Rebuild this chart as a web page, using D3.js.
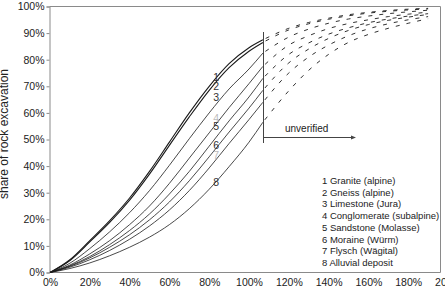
<!DOCTYPE html>
<html>
<head>
<meta charset="utf-8">
<script src="https://cdn.jsdelivr.net/npm/d3@7"></script>
<style>
body{margin:0;background:#fff;}
svg{display:block;font-family:"Liberation Sans",Arial,Helvetica,sans-serif;}
</style>
</head>
<body>
<svg id="chart" width="445" height="300"></svg>
<script>
// share of tunnel length (x) for every sampled point, 1.07 = end of verified part
var xValues=[0,0.1,0.2,0.3,0.4,0.5,0.6,0.7,0.8,0.9,1.0,1.07,1.2,1.3,1.4,1.5,1.6,1.7,1.8,1.9];
var verifiedLimit=1.07;

// share of rock excavation in %, one array per rock type
var granite=     [0,4.8,12,19.5,28,38,49,60,70,78.5,84.5,87.5,91.8,94,95.6,96.9,97.8,98.5,99,99.3];
var gneiss=      [0,4.5,11.5,18.8,27.2,37,47.8,58.5,68.5,77,83.2,86.5,91.2,93.5,95.2,96.5,97.5,98.2,98.7,99.1];
var limestone=   [0,3.5,9,15.3,22.5,30.8,40.3,50.3,60,69,76.5,82.5,88.5,91.5,93.7,95.3,96.4,97.3,98,98.6];
var conglomerate=[0,2.8,7,12,18,25,33.5,43,52.5,62,71,77.5,85.5,89,91.7,93.6,95,96.2,97.1,97.9];
var sandstone=   [0,2.5,6,10.5,15.8,22,29.5,38,47.5,57,66,73,82,86.3,89.6,92,93.9,95.3,96.4,97.3];
var moraine=     [0,2.3,5.5,9.5,14.2,19.8,26.5,34.5,43.5,52.8,61.8,68.5,78.8,84,88,91,93.2,94.8,96,97];
var flysch=      [0,2,4.8,8.3,12.5,17.5,23.5,30.8,39.3,48.5,57.5,64,75,81,85.5,89,91.6,93.5,95,96.2];
var alluvial=    [0,1.5,3.6,6.3,9.5,13.3,18,24,31.3,39.8,49,56.5,68.3,76,82,86.5,89.5,91.8,93.7,95.4];

var legendLabels=["1 Granite (alpine)","2 Gneiss (alpine)","3 Limestone (Jura)","4 Conglomerate (subalpine)",
	"5 Sandstone (Molasse)","6 Moraine (Würm)","7 Flysch (Wägital)","8 Alluvial deposit"];
var curveNumbers=["1","2","3","4","5","6","7","8"];
var curveLabelX=0.835;
var curveLabelY=[73.5,70,66,58,55,48,44,34];

var xTicks=[0,0.2,0.4,0.6,0.8,1.0,1.2,1.4,1.6,1.8,2.0];
var yTicks=[0,0.1,0.2,0.3,0.4,0.5,0.6,0.7,0.8,0.9,1.0];

var allSeries=[granite,gneiss,limestone,conglomerate,sandstone,moraine,flysch,alluvial];

var svg=d3.select("#chart");
var plotLeft=49.5,plotRight=440.5,plotTop=6.5,plotBottom=272.5;

var x=d3.scaleLinear().domain([0,2]).range([50,448]);
var y=d3.scaleLinear().domain([0,1]).range([plotBottom,plotTop]);

//frame
svg.append("path")
	.attr("d","M"+plotLeft+","+plotTop+"H"+plotRight+"V"+plotBottom)
	.attr("fill","none")
	.attr("stroke","#8a8a8a")
	.attr("stroke-width",1);

//y axis
var yAxis=svg.append("g")
	.attr("transform","translate("+plotLeft+",0)")
	.call(d3.axisLeft(y).tickValues(yTicks).tickSize(3).tickPadding(2).tickFormat(d3.format(".0%")));
yAxis.select(".domain").attr("stroke","#8a8a8a");
yAxis.selectAll(".tick line").attr("stroke","#8a8a8a");
yAxis.selectAll("text").attr("font-size","10.5px").attr("fill","#222").attr("font-family","inherit");

//x axis
var xAxis=svg.append("g")
	.attr("transform","translate(0,"+plotBottom+")")
	.call(d3.axisBottom(x).tickValues(xTicks).tickSize(0).tickPadding(6).tickFormat(d3.format(".0%")));
xAxis.select(".domain").attr("stroke","#8a8a8a").attr("d","M"+plotLeft+",0H"+plotRight);
xAxis.selectAll("text").attr("font-size","10.5px").attr("fill","#222").attr("font-family","inherit");

//axis titles
svg.append("text")
	.attr("transform","translate(8,134) rotate(-90)")
	.attr("text-anchor","middle")
	.attr("font-size","12px")
	.attr("fill","#222")
	.text("share of rock excavation");
svg.append("text")
	.attr("x",245).attr("y",308.5)
	.attr("text-anchor","middle")
	.attr("font-size","11.5px")
	.attr("fill","#666")
	.text("relative tunnel length");

var line=d3.line()
	.x(function(d){return x(d[0]);})
	.y(function(d){return y(d[1]/100);})
	.curve(d3.curveMonotoneX);

var curves=svg.append("g");
allSeries.forEach(function(values,i){
	var pts=xValues.map(function(v,j){return [v,values[j]];});
	var solid=pts.filter(function(p){return p[0]<=verifiedLimit;});
	var dashed=pts.filter(function(p){return p[0]>=verifiedLimit;});
	curves.append("path")
		.attr("d",line(solid))
		.attr("fill","none")
		.attr("stroke","#1a1a1a")
		.attr("stroke-width",i<2?1.1:0.8);
	curves.append("path")
		.attr("d",line(dashed))
		.attr("fill","none")
		.attr("stroke","#1a1a1a")
		.attr("stroke-width",0.9)
		.attr("stroke-dasharray","4,7")
		.attr("stroke-dashoffset",-3);
});

//curve numbers
svg.append("g").selectAll("text")
	.data(curveNumbers)
	.enter().append("text")
	.attr("x",x(curveLabelX))
	.attr("y",function(d,i){return y(curveLabelY[i]/100)+4;})
	.attr("text-anchor","middle")
	.attr("font-size","10.5px")
	.attr("fill",function(d,i){return (i===3||i===6)?"#bbb":"#333";})
	.text(function(d){return d;});

//verified limit marker + arrow
var vx=Math.round(x(verifiedLimit))+0.5;
svg.append("line")
	.attr("x1",vx).attr("x2",vx)
	.attr("y1",32).attr("y2",143)
	.attr("stroke","#444").attr("stroke-width",1);
svg.append("line")
	.attr("x1",vx).attr("x2",353)
	.attr("y1",137.5).attr("y2",137.5)
	.attr("stroke","#444").attr("stroke-width",1);
svg.append("path")
	.attr("d","M356,137.5L351,135.5L351,139.5Z")
	.attr("fill","#444");
svg.append("text")
	.attr("x",285).attr("y",132)
	.attr("font-size","10px")
	.attr("fill","#222")
	.text("unverified");

//legend
svg.append("g").selectAll("text")
	.data(legendLabels)
	.enter().append("text")
	.attr("x",322)
	.attr("y",function(d,i){return 184+i*11.7;})
	.attr("font-size","9.5px")
	.attr("fill","#222")
	.text(function(d){return d;});
</script>
</body>
</html>
